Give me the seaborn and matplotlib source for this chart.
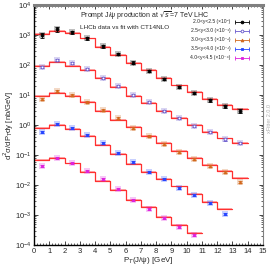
import numpy as np
import pandas as pd
import matplotlib
matplotlib.use("Agg")
import matplotlib.pyplot as plt
from matplotlib.ticker import MultipleLocator, LogLocator, NullFormatter
from matplotlib.legend_handler import HandlerErrorbar
from matplotlib.container import ErrorbarContainer
import seaborn as sns

# data (nb/GeV), one value per 1 GeV pT bin starting at 0
labels = ["2.0<y<2.5 (×10⁰)", "2.5<y<3.0 (×10⁻¹)", "3.0<y<3.5 (×10⁻²)",
          "3.5<y<4.0 (×10⁻³)", "4.0<y<4.5 (×10⁻⁴)"]
colors = ["black", "#6a5acd", "#d2691e", "#2545ff", "#dd22dd"]
markers = ["o", "o", "^", "s", "s"]

data_1 = [1000, 1550, 1230, 776, 427, 234, 120, 63, 34, 18.6, 11.7, 6.8, 4.3, 2.95]
fit_1 = [1070, 1410, 1170, 776, 407, 214, 115, 68, 37, 21, 12.6, 7.4, 4.7, 3.4]
err_1 = [0.20, 0.18, 0.14, 0.10, 0.10, 0.10, 0.10, 0.10, 0.10, 0.10, 0.10, 0.11, 0.12, 0.14]

data_2 = [87, 148, 120, 72, 38, 20.4, 10, 5.75, 3.0, 1.66, 0.95, 0.575, 0.33, 0.257]
fit_2 = [95, 129, 95, 68, 36, 18.2, 9.3, 5.5, 3.0, 1.74, 1.0, 0.6, 0.355, 0.25]

data_3 = [7.4, 13.8, 10, 6.0, 3.16, 1.66, 0.78, 0.437, 0.234, 0.129, 0.074, 0.0427, 0.0275, 0.0129]
fit_3 = [9.5, 11.5, 9.3, 5.75, 2.95, 1.48, 0.87, 0.437, 0.25, 0.14, 0.079, 0.047, 0.0295, 0.0174]

data_4 = [0.6, 1.07, 0.81, 0.47, 0.245, 0.12, 0.0575, 0.0275, 0.0155, 0.0081, 0.0047, 0.00245, 0.00107]
fit_4 = [0.78, 1.0, 0.72, 0.43, 0.214, 0.107, 0.049, 0.028, 0.0158, 0.0089, 0.005, 0.0028, 0.00158]

data_5 = [0.0427, 0.078, 0.055, 0.030, 0.0155, 0.0074, 0.00316, 0.00158, 0.00081, 0.00039, 0.000214]
fit_5 = [0.068, 0.078, 0.052, 0.0275, 0.0135, 0.0068, 0.00316, 0.0019, 0.00087, 0.00047, 0.000245]

rel_err = 0.08
band = 0.07

datas = [data_1, data_2, data_3, data_4, data_5]
fits = [fit_1, fit_2, fit_3, fit_4, fit_5]

sns.set_style("ticks")
plt.rcParams["font.family"] = ["Liberation Sans", "DejaVu Sans"]

fig = plt.figure(figsize=(2.74, 2.70), dpi=100)
ax = fig.add_axes([0.124, 0.093, 0.836, 0.888])

for i in range(5):
    d = np.array(datas[i], dtype=float)
    f = np.array(fits[i], dtype=float)
    n = len(d)
    edges = np.arange(n + 1)
    fstep = np.append(f, f[-1])
    # fit band + fit line
    ax.fill_between(edges, fstep * (1 - band), fstep * (1 + band), step="post",
                    color="#ffb0b0", lw=0, zorder=1)
    step_df = pd.DataFrame({"pt": edges, "val": fstep})
    sns.lineplot(data=step_df, x="pt", y="val", drawstyle="steps-post",
                 color="#ff3030", lw=0.9, ax=ax, zorder=2)
    centers = np.arange(n) + 0.5
    if i == 0:
        e = d * np.array(err_1)
    else:
        e = d * rel_err
    # pale box behind points
    ax.scatter(centers, d, marker="s", s=14, color=colors[i], alpha=0.25, lw=0, zorder=3)
    ax.errorbar(centers, d, yerr=e, fmt=markers[i], ms=2.0, color=colors[i],
                mfc=colors[i] if i != 1 else "white", mew=0.6,
                elinewidth=0.6, capsize=1.3, capthick=0.6, zorder=4)

# legend entries
handles = []
for i in range(5):
    h = ax.errorbar([np.nan], [np.nan], xerr=[1], fmt=markers[i], ms=2.0, color=colors[i],
                    mfc=colors[i] if i != 1 else "white", mew=0.6,
                    elinewidth=0.6, capsize=1.3, label=labels[i])
    handles.append(h)
ax.legend(handles=handles, loc="upper right", bbox_to_anchor=(0.96, 0.955),
          frameon=False, fontsize=3.6, markerfirst=False, handlelength=3.2,
          labelspacing=0.8, handletextpad=0.8, borderpad=0.2,
          handler_map={ErrorbarContainer: HandlerErrorbar(xerr_size=1.4)})

ax.set_yscale("log")
ax.set_xlim(0, 15)
ax.set_ylim(1e-4, 1e4)
ax.xaxis.set_major_locator(MultipleLocator(1))
ax.xaxis.set_minor_locator(MultipleLocator(0.2))
ax.yaxis.set_major_locator(LogLocator(base=10, numticks=20))
ax.yaxis.set_minor_locator(LogLocator(base=10, subs=np.arange(2, 10), numticks=20))
ax.yaxis.set_minor_formatter(NullFormatter())
ax.tick_params(axis="both", which="both", direction="in", top=True, right=True)
ax.tick_params(axis="both", which="major", length=3, width=0.6, labelsize=5.5, pad=2)
ax.tick_params(axis="both", which="minor", length=1.5, width=0.5)

for s in ["left", "bottom"]:
    ax.spines[s].set_color("black")
    ax.spines[s].set_linewidth(1.0)
ax.spines["top"].set_color("#808080")
ax.spines["top"].set_linewidth(2.2)
ax.spines["right"].set_color("#808080")
ax.spines["right"].set_linewidth(0.8)

ax.set_xlabel("P$_T$(J/ψ) [GeV]", fontsize=5.8)
ax.set_ylabel("d$^2$σ/dP$_T$dy [nb/GeV]", fontsize=5.5)
ax.xaxis.set_label_coords(0.5, -0.043)
ax.yaxis.set_label_coords(-0.08, 0.5)

ax.text(0.2, 0.955, r"Prompt J/ψ production at $\sqrt{s}$=7 TeV LHC", transform=ax.transAxes,
        fontsize=5.0, va="center", ha="left")
ax.text(0.2, 0.905, "LHCb data vs fit with CT14NLO", transform=ax.transAxes,
        fontsize=4.6, va="center", ha="left")
fig.text(0.985, 0.56, "xFitter 2.0.0", rotation=90, fontsize=4, color="#b0b0b0",
         ha="center", va="center")

fig.savefig("out.png", dpi=100)
